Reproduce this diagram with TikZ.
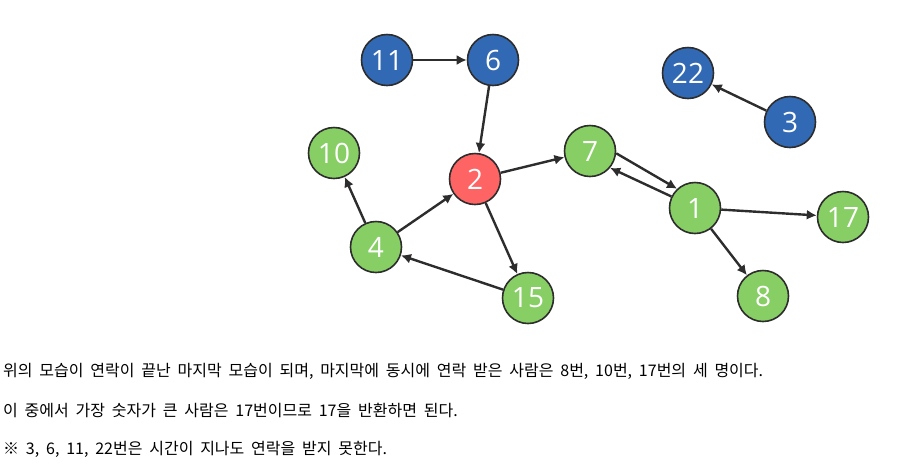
\documentclass[tikz,border=0pt]{standalone}
\usepackage{fontspec}
\setmainfont{Open Sans}
\newfontfamily\kofont[WordSpace=1.9]{Noto Sans CJK KR}
\usetikzlibrary{positioning,calc}
\usetikzlibrary{arrows.meta}
\definecolor{NodeBlue}{RGB}{50,105,180}
\definecolor{NodeGreen}{RGB}{135,206,100}
\definecolor{NodeRed}{RGB}{255,100,100}
\definecolor{EdgeGray}{RGB}{45,45,45}
\tikzset{
  v/.style={circle,draw=EdgeGray,line width=1.6pt,minimum size=51pt,inner sep=0pt,
    text=white,font=\fontsize{28}{28}\selectfont},
  blue/.style={v,fill=NodeBlue},
  green/.style={v,fill=NodeGreen},
  red/.style={v,fill=NodeRed},
  edge/.style={draw=EdgeGray,line width=2.4pt,-{Latex[length=10pt,width=10pt]}},
}
\tikzset{txt/.style={anchor=west,inner sep=0pt,font=\kofont\fontsize{16}{16}\selectfont}}

\begin{document}
\begin{tikzpicture}[x=1pt,y=-1pt]
\useasboundingbox (0,0) rectangle (913,467);
\node[blue] (n11) at (387,60) {11};
\node[blue] (n6) at (493,60) {6};
\node[blue] (n22) at (688,73) {22};
\node[blue] (n3) at (790,122) {3};
\node[green] (n10) at (334,153) {10};
\node[red] (n2) at (475,179) {2};
\node[green] (n7) at (590,151) {7};
\node[green] (n1) at (695,208) {1};
\node[green] (n17) at (843,217) {17};
\node[green] (n4) at (376,247) {4};
\node[green] (n15) at (528,298) {15};
\node[green] (n8) at (763,296) {8};
\draw[edge] (n11) -- (n6);
\draw[edge] (n6) -- (n2);
\draw[edge] (n3) -- (n22);
\draw[edge] (n2) -- (n7);
\draw[edge] (n2) -- (n15);
\draw[edge] (n15) -- (n4);
\draw[edge] (n4) -- (n2);
\draw[edge] (n4) -- (n10);
\draw[edge] (n7.-5) -- (n1.133);
\draw[edge] (n1.154) -- (n7.-40);
\draw[edge] (n1) -- (n17);
\draw[edge] (n1) -- (n8);
\node[txt] (l1) at (3,371) {위의 모습이 연락이 끝난 마지막 모습이 되며, 마지막에 동시에 연락 받은 사람은 8번, 10번, 17번의 세 명이다.};
\node[txt] (l2) at (3,410) {이 중에서 가장 숫자가 큰 사람은 17번이므로 17을 반환하면 된다.};
\node[txt] (l3) at (3,449) {※ 3, 6, 11, 22번은 시간이 지나도 연락을 받지 못한다.};
\end{tikzpicture}
\end{document}
